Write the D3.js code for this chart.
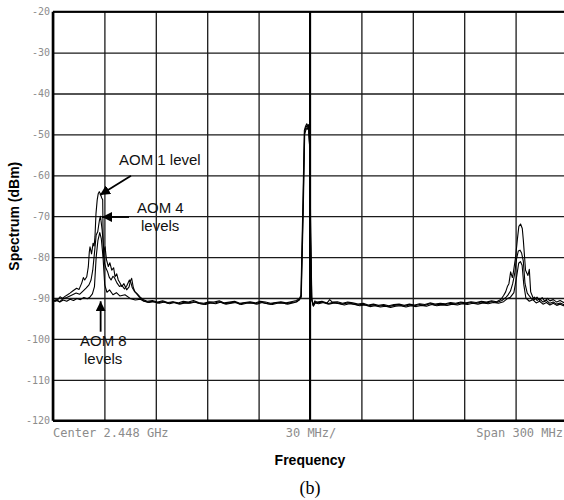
<!DOCTYPE html>
<html>
<head>
<meta charset="utf-8">
<script src="https://cdn.jsdelivr.net/npm/d3@7"></script>
<style>
  body { margin: 0; background: #fff; }
  #chart { width: 564px; height: 500px; overflow: hidden; }
</style>
</head>
<body>
<div id="chart"></div>
<script>
// frequency in MHz, level in dBm
const xTicks = [2298, 2328, 2358, 2388, 2418, 2448, 2478, 2508, 2538, 2568, 2598];
const yTicks = [-20, -30, -40, -50, -60, -70, -80, -90, -100, -110, -120];
const footerLabels = ["Center 2.448 GHz", "30 MHz/", "Span 300 MHz"];

const aom1 = [
  [2298.0,-90.5],[2299.5,-90.8],[2301.0,-90.3],[2302.1,-89.7],[2303.5,-90.1],[2305.0,-89.6],[2306.5,-89.2],
  [2307.9,-88.8],[2309.5,-88.3],[2311.8,-87.6],[2313.2,-87.9],[2314.8,-86.3],[2315.7,-85.0],[2316.5,-85.6],
  [2317.7,-84.8],[2318.6,-82.4],[2319.2,-78.7],[2319.6,-77.5],[2320.5,-79.2],[2321.4,-76.6],[2322.0,-77.3],
  [2322.5,-75.0],[2323.1,-69.3],[2323.8,-66.0],[2324.4,-64.5],[2325.0,-64.0],[2325.7,-64.6],[2326.4,-65.5],
  [2327.0,-66.0],[2327.4,-80.0],[2327.9,-78.2],[2328.4,-77.5],[2329.2,-80.6],[2330.3,-82.3],[2331.2,-81.4],
  [2332.3,-83.2],[2333.4,-82.6],[2334.2,-84.8],[2335.2,-84.1],[2336.1,-85.6],[2337.2,-86.4],[2338.1,-87.2],
  [2339.4,-86.5],[2341.0,-88.0],[2342.4,-87.3],[2343.2,-85.8],[2343.9,-85.2],[2344.9,-87.5],[2345.9,-88.5],
  [2347.2,-89.0],[2348.8,-89.7],[2350.5,-90.4],
  [2353,-90.8],[2356,-90.6],[2359,-91.0],[2362,-90.7],[2365,-91.1],[2368,-90.9],[2371,-91.2],[2374,-90.8],
  [2377,-91.0],[2380,-90.6],[2383,-91.1],[2386,-91.3],[2389,-90.9],[2392,-91.0],[2395,-90.7],[2398,-91.2],
  [2401,-91.0],[2404,-90.8],[2407,-91.3],[2410,-91.1],[2413,-90.9],[2416,-91.2],[2419,-90.8],[2422,-91.0],
  [2425,-91.3],[2428,-91.1],[2431,-90.9],[2434,-91.2],[2437,-90.9],[2440,-90.6],[2441.8,-90.2],
  [2442.7,-89.3],[2443.9,-66.0],[2444.7,-49.0],[2445.4,-48.0],[2446.1,-47.4],[2446.6,-47.9],[2447.1,-47.6],
  [2447.7,-52.0],[2448.3,-75.0],[2448.9,-90.0],[2449.8,-91.7],[2450.8,-90.7],
  [2452,-91.0],[2455,-90.8],[2458,-91.2],[2459.5,-90.4],[2461,-91.0],[2464,-90.9],[2467,-91.3],[2470,-91.0],
  [2473,-91.2],[2476,-91.5],[2479,-91.3],[2482,-91.7],[2485,-91.5],[2488,-91.8],[2491,-91.6],[2494,-91.9],
  [2497,-91.6],[2500,-91.5],[2503,-91.8],[2506,-91.5],[2509,-91.7],[2512,-91.4],[2515,-91.6],[2518,-91.2],
  [2521,-91.5],[2524,-91.3],[2527,-91.4],[2530,-91.1],[2533,-91.3],[2536,-91.0],[2539,-91.2],[2542,-90.9],
  [2545,-91.1],[2548,-90.8],[2551,-91.0],[2554,-90.7],[2557,-90.9],[2559.5,-90.3],[2561,-89.4],
  [2562.2,-88.5],[2563.2,-87.2],[2564.1,-86.5],[2565.1,-83.6],[2566.1,-85.0],[2566.6,-84.0],[2568.0,-80.0],
  [2569.0,-75.8],[2569.9,-72.5],[2570.9,-71.9],[2571.9,-73.0],[2572.5,-75.8],[2573.8,-83.2],[2575.2,-84.5],
  [2576.0,-83.0],[2576.8,-88.5],[2578.7,-90.5],
  [2580.5,-89.8],[2582,-90.6],[2583.5,-89.9],[2585,-90.8],[2586.5,-90.1],[2588,-90.7],[2590,-90.4],
  [2592,-91.0],[2594,-90.6],[2596,-91.1],[2598,-90.8]
];

const aom4 = [
  [2298,-90.7],[2300,-90.4],[2302,-90.9],[2303.7,-90.2],[2306,-89.9],[2308.5,-89.4],[2311.5,-88.8],
  [2313.5,-89.1],[2315.5,-88.3],[2317.3,-87.6],[2319,-86.8],[2320.2,-85.6],[2321.2,-83.2],[2322.2,-79.0],
  [2323.2,-74.6],[2324.1,-73.8],[2325.1,-71.0],[2325.7,-70.0],[2326.7,-73.4],[2327.4,-77.0],[2328.0,-81.4],
  [2329.0,-82.8],[2329.8,-83.5],[2330.8,-84.9],[2331.9,-85.6],[2333.0,-84.7],[2333.8,-85.0],[2335.3,-86.3],
  [2336.8,-87.2],[2338.2,-86.9],[2339.7,-87.8],[2341.2,-86.9],[2342.6,-85.6],[2343.4,-86.2],[2344.3,-87.5],
  [2345.4,-88.3],[2346.5,-88.8],[2348.4,-89.8],[2350.5,-90.6],
  [2353,-91.0],[2356,-90.8],[2359,-91.2],[2362,-90.9],[2365,-91.3],[2368,-91.0],[2371,-91.4],[2374,-91.1],
  [2377,-91.2],[2380,-90.9],[2383,-91.3],[2386,-91.5],[2389,-91.1],[2392,-91.3],[2395,-90.9],[2398,-91.4],
  [2401,-91.2],[2404,-91.0],[2407,-91.5],[2410,-91.2],[2413,-91.1],[2416,-91.4],[2419,-91.0],[2422,-91.3],
  [2425,-91.5],[2428,-91.2],[2431,-91.1],[2434,-91.4],[2437,-91.1],[2440,-90.9],[2441.8,-90.5],
  [2442.8,-89.6],[2444.0,-67.0],[2444.8,-49.5],[2445.5,-48.4],[2446.2,-47.9],[2446.7,-48.3],[2447.2,-48.1],
  [2447.8,-53.0],[2448.4,-76.0],[2449.0,-90.3],[2449.9,-91.9],[2450.9,-91.0],
  [2452,-91.2],[2455,-91.0],[2458,-91.4],[2461,-91.1],[2464,-91.2],[2467,-91.5],[2470,-91.2],[2473,-91.4],
  [2476,-91.7],[2479,-91.5],[2482,-91.9],[2485,-91.7],[2488,-92.0],[2491,-91.8],[2494,-92.1],[2497,-91.8],
  [2500,-91.7],[2503,-92.0],[2506,-91.7],[2509,-91.9],[2512,-91.6],[2515,-91.8],[2518,-91.4],[2521,-91.7],
  [2524,-91.5],[2527,-91.6],[2530,-91.3],[2533,-91.5],[2536,-91.2],[2539,-91.4],[2542,-91.1],[2545,-91.3],
  [2548,-91.0],[2551,-91.2],[2554,-90.9],[2557,-91.1],[2560,-90.6],
  [2562.5,-89.8],[2563.5,-89.3],[2565,-88.3],[2566.3,-86.5],[2567.5,-84.0],[2568.5,-80.5],[2569.6,-78.5],
  [2570.6,-78.3],[2571.5,-79.0],[2572.5,-81.0],[2573.5,-86.5],[2574.8,-88.8],[2576,-89.5],[2577.5,-90.3],
  [2579,-89.8],
  [2580.5,-90.6],[2582,-90.2],[2584,-91.0],[2586,-90.6],[2588,-91.3],[2590,-91.0],[2592,-91.5],
  [2594,-91.2],[2596,-91.6],[2598,-91.4]
];

const aom8 = [
  [2298,-90.9],[2300,-90.6],[2302,-91.0],[2304,-90.5],[2306,-90.8],[2308,-90.3],[2310,-90.6],[2312,-90.1],
  [2314,-90.4],[2316,-89.9],[2318,-90.2],[2319.5,-89.8],[2321,-89.0],[2322.2,-87.2],[2323.2,-80.0],
  [2324.2,-76.0],[2325.3,-74.0],[2326.2,-75.5],[2327.2,-80.0],[2328.2,-86.8],[2329.5,-88.6],[2331,-88.0],
  [2333,-89.2],[2335,-88.7],[2337,-89.5],[2340,-89.2],[2343,-90.1],[2346,-90.5],[2349,-90.3],[2351,-90.8],
  [2354,-91.1],[2357,-90.9],[2360,-91.3],[2363,-91.0],[2366,-91.4],[2369,-91.1],[2372,-91.5],[2375,-91.2],
  [2378,-91.3],[2381,-91.0],[2384,-91.4],[2387,-91.6],[2390,-91.2],[2393,-91.4],[2396,-91.0],[2399,-91.5],
  [2402,-91.3],[2405,-91.1],[2408,-91.6],[2411,-91.3],[2414,-91.2],[2417,-91.5],[2420,-91.1],[2423,-91.4],
  [2426,-91.6],[2429,-91.3],[2432,-91.2],[2435,-91.5],[2438,-91.2],[2440.5,-90.9],
  [2442.9,-89.8],[2444.1,-68.0],[2444.9,-50.0],[2445.6,-48.9],[2446.3,-48.4],[2446.8,-48.8],[2447.3,-48.6],
  [2447.9,-54.0],[2448.5,-77.0],[2449.1,-90.5],[2450.0,-92.0],[2451,-91.2],
  [2453,-91.4],[2456,-91.1],[2459,-91.5],[2462,-91.2],[2465,-91.4],[2468,-91.7],[2471,-91.4],[2474,-91.6],
  [2477,-91.9],[2480,-91.7],[2483,-92.1],[2486,-91.9],[2489,-92.2],[2492,-92.0],[2495,-92.3],[2498,-92.0],
  [2501,-91.9],[2504,-92.2],[2507,-91.9],[2510,-92.1],[2513,-91.8],[2516,-92.0],[2519,-91.6],[2522,-91.9],
  [2525,-91.7],[2528,-91.8],[2531,-91.5],[2534,-91.7],[2537,-91.4],[2540,-91.6],[2543,-91.3],[2546,-91.5],
  [2549,-91.2],[2552,-91.4],[2555,-91.1],[2558,-91.3],[2561,-90.9],
  [2563,-90.2],[2565,-89.8],[2567,-88.7],[2568.5,-85.0],[2569.8,-81.5],[2570.8,-81.1],[2571.8,-82.0],
  [2572.8,-86.8],[2574,-90.0],[2576,-90.8],[2578,-90.4],
  [2580,-91.2],[2582,-90.8],[2584,-91.5],[2586,-91.1],[2588,-91.7],[2590,-91.3],[2592,-91.8],
  [2594,-91.5],[2596,-91.9],[2598,-91.7]
];

const traces = [aom1, aom4, aom8];

let margin = { left: 53, top: 11.7, right: -3, bottom: 79.3 };
let W = 564, H = 500;
let width = W - margin.left - margin.right;
let height = H - margin.top - margin.bottom;

let svg = d3.select("#chart").append("svg")
  .attr("width", W)
  .attr("height", H)
  .style("font-family", "'Liberation Sans', Arial, sans-serif");

svg.append("defs").append("marker")
  .attr("id", "head")
  .attr("viewBox", "0 0 10 10")
  .attr("refX", 10).attr("refY", 5)
  .attr("markerWidth", 10).attr("markerHeight", 10)
  .attr("markerUnits", "userSpaceOnUse")
  .attr("orient", "auto")
  .append("path")
  .attr("d", "M0,0L10,5L0,10z")
  .attr("fill", "#000");

let g = svg.append("g")
  .attr("transform", `translate(${margin.left},${margin.top})`);

let x = d3.scaleLinear().domain([2298, 2598]).range([0, width]);
let y = d3.scaleLinear().domain([-120, -20]).range([height, 0]);

// horizontal grid + dBm labels
let yAxis = g.append("g")
  .call(d3.axisLeft(y).tickValues(yTicks).tickSize(-width).tickPadding(3).tickFormat(d => String(d)));
yAxis.select(".domain").remove();
yAxis.selectAll("line").attr("stroke", "#1a1a1a").attr("stroke-width", 1.3);
yAxis.selectAll("text")
  .attr("fill", "#8c8c8c")
  .style("font-family", "'DejaVu Sans Mono', monospace")
  .style("font-size", "10px");

// vertical grid
let xAxis = g.append("g")
  .attr("transform", `translate(0,${height})`)
  .call(d3.axisBottom(x).tickValues(xTicks).tickSize(-height).tickFormat(""));
xAxis.select(".domain").remove();
xAxis.selectAll("line").attr("stroke", "#1a1a1a").attr("stroke-width", 1.3);

// heavier frame lines
g.append("line").attr("x1", x(2298)).attr("x2", x(2298)).attr("y1", 0).attr("y2", height)
  .attr("stroke", "#000").attr("stroke-width", 2.6);
g.append("line").attr("x1", 0).attr("x2", width).attr("y1", y(-120)).attr("y2", y(-120))
  .attr("stroke", "#000").attr("stroke-width", 2.6);
g.append("line").attr("x1", 0).attr("x2", width).attr("y1", y(-20)).attr("y2", y(-20))
  .attr("stroke", "#000").attr("stroke-width", 2);
g.append("line").attr("x1", x(2448)).attr("x2", x(2448)).attr("y1", 0).attr("y2", height)
  .attr("stroke", "#000").attr("stroke-width", 2);

// traces
let line = d3.line().x(d => x(d[0])).y(d => y(d[1]));
traces.forEach(t => {
  g.append("path")
    .datum(t)
    .attr("fill", "none")
    .attr("stroke", "#000")
    .attr("stroke-width", 1.1)
    .attr("stroke-linejoin", "round")
    .attr("d", line);
});

// instrument footer text
let foot = g.append("g")
  .attr("fill", "#8c8c8c")
  .style("font-family", "'DejaVu Sans Mono', monospace")
  .style("font-size", "12px");
foot.append("text").attr("x", x(2298)).attr("y", height + 16).attr("text-anchor", "start").text(footerLabels[0]);
foot.append("text").attr("x", x(2448) + 1).attr("y", height + 16).attr("text-anchor", "middle").text(footerLabels[1]);
foot.append("text").attr("x", W - margin.left - 1).attr("y", height + 16).attr("text-anchor", "end").text(footerLabels[2]);

// annotations
let ann = g.append("g").attr("fill", "#111").style("font-size", "15px");
ann.append("text").attr("x", 66).attr("y", 153).text("AOM 1 level");
ann.append("text").attr("x", 84).attr("y", 201).text("AOM 4");
ann.append("text").attr("x", 88).attr("y", 219).text("levels");
ann.append("text").attr("x", 27).attr("y", 334).text("AOM 8");
ann.append("text").attr("x", 31).attr("y", 352).text("levels");

g.append("line").attr("x1", 78).attr("y1", 164).attr("x2", x(2325.4)).attr("y2", y(-64.8))
  .attr("stroke", "#000").attr("stroke-width", 1.8).attr("marker-end", "url(#head)");
g.append("line").attr("x1", 76).attr("y1", y(-70.2)).attr("x2", x(2326.6)).attr("y2", y(-70.2))
  .attr("stroke", "#000").attr("stroke-width", 1.8).attr("marker-end", "url(#head)");
g.append("line").attr("x1", x(2325.8)).attr("y1", 320).attr("x2", x(2325.8)).attr("y2", y(-90.8))
  .attr("stroke", "#000").attr("stroke-width", 1.8).attr("marker-end", "url(#head)");

// axis titles
svg.append("text")
  .attr("transform", `translate(19,${margin.top + height / 2})rotate(-90)`)
  .attr("text-anchor", "middle")
  .style("font-weight", "bold")
  .style("font-size", "14px")
  .text("Spectrum (dBm)");

svg.append("text")
  .attr("x", 310).attr("y", 465)
  .attr("text-anchor", "middle")
  .style("font-weight", "bold")
  .style("font-size", "14px")
  .text("Frequency");

svg.append("text")
  .attr("x", 310).attr("y", 494)
  .attr("text-anchor", "middle")
  .style("font-family", "'Liberation Serif', 'Times New Roman', serif")
  .style("font-size", "18px")
  .text("(b)");
</script>
</body>
</html>
